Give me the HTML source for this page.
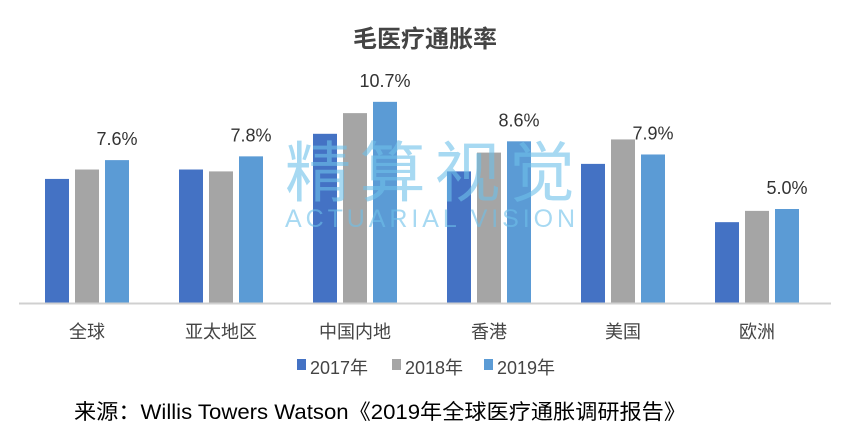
<!DOCTYPE html>
<html><head><meta charset="utf-8">
<style>
body{margin:0;background:#fff;}
svg text{font-family:"Liberation Sans","Noto Sans CJK SC",sans-serif;}
</style></head>
<body>
<svg id="chart" width="850" height="441" viewBox="0 0 850 441" xmlns="http://www.w3.org/2000/svg">
<rect width="850" height="441" fill="#fff"/>
<text x="425" y="47" text-anchor="middle" font-size="24" font-weight="bold" fill="#444">毛医疗通胀率</text>
<g id="bars"></g>
<line x1="19" y1="303.5" x2="831" y2="303.5" stroke="#d0d0d0" stroke-width="2"/>
<g id="labels"></g>
<g opacity="0.6">
<text x="285" y="196" font-size="66" fill="#6ec1ea" textLength="290" lengthAdjust="spacing">精算视觉</text>
<text x="285" y="227" font-size="25" fill="#6ec1ea" textLength="290" lengthAdjust="spacing">ACTUARIAL VISION</text>
</g>
<g font-size="18" fill="#444">
<rect x="297" y="359" width="9" height="11" fill="#4472C4"/><text x="310" y="374" fill="#444">2017年</text>
<rect x="392" y="359" width="9" height="11" fill="#A5A5A5"/><text x="405" y="374" fill="#444">2018年</text>
<rect x="484" y="359" width="9" height="11" fill="#5B9BD5"/><text x="497" y="374" fill="#444">2019年</text>
</g>
<text x="74" y="419" font-size="21" fill="#000" textLength="612" lengthAdjust="spacingAndGlyphs">来源：Willis Towers Watson《2019年全球医疗通胀调研报告》</text>
</svg>
<script>
const categories=["全球","亚太地区","中国内地","香港","美国","欧洲"];
const s2017=[6.6,7.1,9.0,7.0,7.4,4.3];
const s2018=[7.1,7.0,10.1,8.0,8.7,4.9];
const s2019=[7.6,7.8,10.7,8.6,7.9,5.0];
const labels2019=["7.6%","7.8%","10.7%","8.6%","7.9%","5.0%"];
const series=[s2017,s2018,s2019];
const colors=["#4472C4","#A5A5A5","#5B9BD5"];
const NS="http://www.w3.org/2000/svg";
const base=303, pxPer=18.8;
function y(v){return base-v*pxPer;}
function cx(i){return 87+i*134;}
const g=document.getElementById('bars'), lg=document.getElementById('labels');
categories.forEach((c,i)=>{
  series.forEach((s,k)=>{
    const r=document.createElementNS(NS,'rect');
    
    
    r.setAttribute('x',cx(i)-42+k*30);r.setAttribute('width',24);
    r.setAttribute('y',y(s[i]));r.setAttribute('height',base-y(s[i]));
    r.setAttribute('fill',colors[k]);g.appendChild(r);
  });
  const t=document.createElementNS(NS,'text');
  
  
  t.setAttribute('x',cx(i)+30);t.setAttribute('y',y(s2019[i])-15);
  t.setAttribute('text-anchor','middle');t.setAttribute('font-size','18');t.setAttribute('fill','#333');
  t.textContent=labels2019[i];lg.appendChild(t);
  const l=document.createElementNS(NS,'text');
  
  
  l.setAttribute('x',cx(i));l.setAttribute('y',338);
  l.setAttribute('text-anchor','middle');l.setAttribute('font-size','18');l.setAttribute('fill','#444');
  l.textContent=c;lg.appendChild(l);
});
</script>
</body></html>
